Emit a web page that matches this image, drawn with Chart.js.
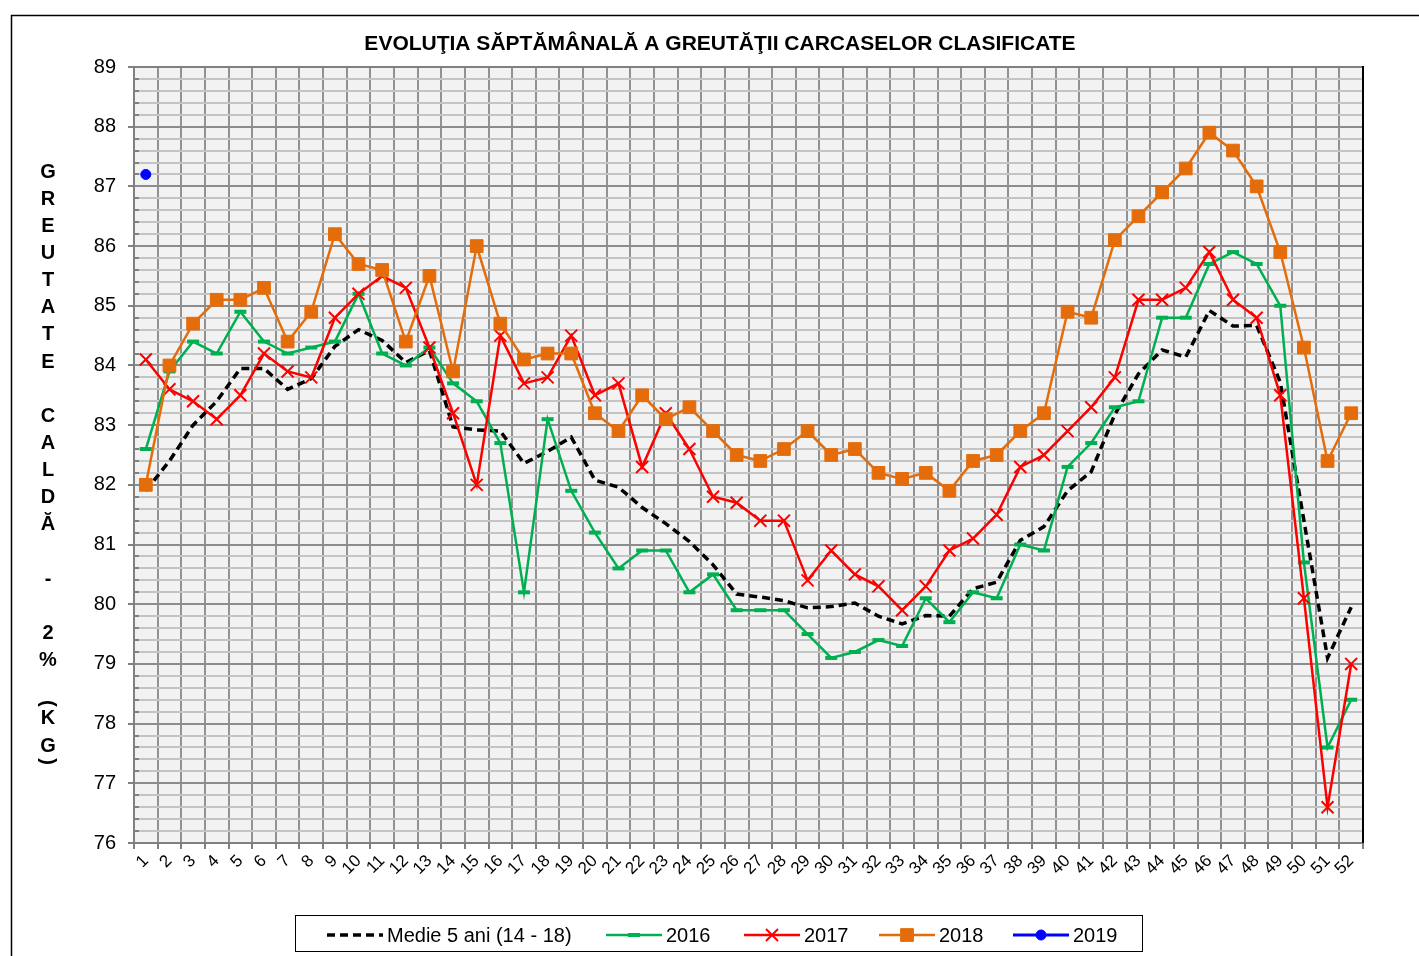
<!DOCTYPE html>
<html>
<head>
<meta charset="utf-8">
<script src="https://cdn.jsdelivr.net/npm/chart.js@4.4.1/dist/chart.umd.min.js"></script>
<style>
  html, body { margin: 0; padding: 0; background: #fff; }
  #wrap { width: 1419px; height: 956px; }
</style>
</head>
<body>
<div id="wrap"><canvas id="chart" width="1419" height="956"></canvas></div>
<script>
// date
const weeks = ['1','2','3','4','5','6','7','8','9','10','11','12','13','14','15','16','17','18','19','20',
  '21','22','23','24','25','26','27','28','29','30','31','32','33','34','35','36','37','38','39','40',
  '41','42','43','44','45','46','47','48','49','50','51','52'];

const medie5ani = [81.9, 82.4, 83.0, 83.4, 83.95, 83.95, 83.6, 83.78, 84.32, 84.6, 84.42, 84.05, 84.25, 82.97, 82.92, 82.9, 82.36, 82.56, 82.8, 82.08,
  81.96, 81.62, 81.35, 81.05, 80.66, 80.17, 80.12, 80.06, 79.94, 79.96, 80.02, 79.8, 79.67, 79.81, 79.8, 80.26, 80.37, 81.07, 81.3, 81.9,
  82.22, 83.18, 83.86, 84.26, 84.14, 84.92, 84.66, 84.67, 83.72, 81.4, 79.1, 79.95];

const serie2016 = [82.6, 83.9, 84.4, 84.2, 84.9, 84.4, 84.2, 84.3, 84.4, 85.2, 84.2, 84.0, 84.3, 83.7, 83.4, 82.7, 80.2, 83.1, 81.9, 81.2,
  80.6, 80.9, 80.9, 80.2, 80.5, 79.9, 79.9, 79.9, 79.5, 79.1, 79.2, 79.4, 79.3, 80.1, 79.7, 80.2, 80.1, 81.0, 80.9, 82.3,
  82.7, 83.3, 83.4, 84.8, 84.8, 85.7, 85.9, 85.7, 85.0, 80.7, 77.6, 78.4];

const serie2017 = [84.1, 83.6, 83.4, 83.1, 83.5, 84.2, 83.9, 83.8, 84.8, 85.2, 85.5, 85.3, 84.3, 83.2, 82.0, 84.5, 83.7, 83.8, 84.5, 83.5,
  83.7, 82.3, 83.2, 82.6, 81.8, 81.7, 81.4, 81.4, 80.4, 80.9, 80.5, 80.3, 79.9, 80.3, 80.9, 81.1, 81.5, 82.3, 82.5, 82.9,
  83.3, 83.8, 85.1, 85.1, 85.3, 85.9, 85.1, 84.8, 83.5, 80.1, 76.6, 79.0];

const serie2018 = [82.0, 84.0, 84.7, 85.1, 85.1, 85.3, 84.4, 84.9, 86.2, 85.7, 85.6, 84.4, 85.5, 83.9, 86.0, 84.7, 84.1, 84.2, 84.2, 83.2,
  82.9, 83.5, 83.1, 83.3, 82.9, 82.5, 82.4, 82.6, 82.9, 82.5, 82.6, 82.2, 82.1, 82.2, 81.9, 82.4, 82.5, 82.9, 83.2, 84.9,
  84.8, 86.1, 86.5, 86.9, 87.3, 87.9, 87.6, 87.0, 85.9, 84.3, 82.4, 83.2];

const serie2019 = [87.2];

const FONT = 'Arial, "Liberation Sans", sans-serif';
const isInt = v => Math.abs(v - Math.round(v)) < 1e-6;

// fundal, titluri, legenda, chenar
const decor = {
  id: 'decor',
  beforeDraw(chart) {
    const ctx = chart.ctx, a = chart.chartArea;
    ctx.save();
    ctx.fillStyle = '#fff';
    ctx.fillRect(0, 0, chart.width, chart.height);
    ctx.fillStyle = '#f2f2f2';
    ctx.fillRect(a.left, a.top, a.right - a.left, a.bottom - a.top);
    ctx.restore();
  },
  afterDatasetsDraw(chart) {
    const ctx = chart.ctx, a = chart.chartArea, y = chart.scales.y;
    ctx.save();
    // tick-uri minore spre interior
    ctx.strokeStyle = '#808080';
    ctx.lineWidth = 2;
    y.ticks.forEach(t => {
      if (isInt(t.value)) return;
      const py = Math.round(y.getPixelForValue(t.value));
      ctx.beginPath();
      ctx.moveTo(a.left, py);
      ctx.lineTo(a.left + 5, py);
      ctx.stroke();
    });
    // chenar zona grafic
    ctx.strokeStyle = '#808080';
    ctx.lineWidth = 2;
    ctx.beginPath();
    ctx.moveTo(a.left, a.top);
    ctx.lineTo(a.right, a.top);
    ctx.stroke();
    ctx.strokeStyle = '#000';
    ctx.beginPath();
    ctx.moveTo(a.right, a.top - 1);
    ctx.lineTo(a.right, a.bottom);
    ctx.stroke();
    ctx.restore();
  },
  afterDraw(chart) {
    const ctx = chart.ctx;
    ctx.save();
    // chenar exterior
    ctx.strokeStyle = '#000';
    ctx.lineWidth = 1.5;
    ctx.strokeRect(11.5, 15.5, 1500, 1000);

    // titlu
    ctx.fillStyle = '#000';
    ctx.font = 'bold 21px ' + FONT;
    ctx.textAlign = 'center';
    ctx.textBaseline = 'middle';
    ctx.fillText('EVOLUŢIA SĂPTĂMÂNALĂ A GREUTĂŢII CARCASELOR CLASIFICATE', 720, 44);

    // titlu axa Y, litere una sub alta
    ctx.font = 'bold 20px ' + FONT;
    const yTitle = 'GREUTATE CALDĂ - 2% (KG)';
    let py = 172;
    let prev = '';
    for (const ch of yTitle) {
      if (prev) {
        const half = (ch === '(' || ch === ')' || prev === '(' || prev === ')');
        py += half ? 15.5 : 27.15;
      }
      prev = ch;
      if (ch === ' ') continue;
      ctx.save();
      ctx.translate(48, py);
      if (ch === '(' || ch === ')') ctx.rotate(Math.PI / 2);
      ctx.fillText(ch, 0, 0);
      ctx.restore();
    }

    // legenda
    ctx.strokeStyle = '#000';
    ctx.lineWidth = 1;
    ctx.strokeRect(295.5, 915.5, 847, 36);
    ctx.font = '20px ' + FONT;
    ctx.textAlign = 'left';
    const ly = 935;
    const legendX = [327, 606, 744, 879, 1013];
    chart.data.datasets.forEach((ds, i) => {
      const lx = legendX[i];
      ctx.save();
      ctx.strokeStyle = ds.borderColor;
      ctx.lineWidth = ds.borderWidth;
      ctx.setLineDash(ds.borderDash || []);
      ctx.beginPath();
      ctx.moveTo(lx, ly);
      ctx.lineTo(lx + 56, ly);
      ctx.stroke();
      ctx.setLineDash([]);
      if (ds.pointStyle && ds.pointRadius > 0 && Chart.helpers && Chart.helpers.drawPoint) {
        ctx.fillStyle = ds.pointBackgroundColor;
        ctx.strokeStyle = ds.pointBorderColor;
        ctx.lineWidth = ds.pointBorderWidth;
        Chart.helpers.drawPoint(ctx, {
          pointStyle: ds.pointStyle, radius: ds.legendRadius, rotation: 0, borderWidth: ds.pointBorderWidth
        }, lx + 28, ly);
      }
      ctx.restore();
      ctx.fillStyle = '#000';
      ctx.fillText(ds.label, lx + 60, ly + 1);
    });
    ctx.restore();
  }
};

new Chart(document.getElementById('chart').getContext('2d'), {
  type: 'line',
  data: {
    labels: weeks,
    datasets: [
      {
        label: 'Medie 5 ani (14 - 18)',
        data: medie5ani,
        borderColor: '#000',
        borderWidth: 3.5,
        borderDash: [8, 5],
        pointRadius: 0,
        pointStyle: false,
        order: 5
      },
      {
        label: '2016',
        data: serie2016,
        borderColor: '#00b050',
        borderWidth: 2.5,
        pointStyle: 'line',
        pointRadius: 6,
        legendRadius: 6,
        pointBorderWidth: 4,
        pointBorderColor: '#00b050',
        pointBackgroundColor: '#00b050',
        order: 4
      },
      {
        label: '2017',
        data: serie2017,
        borderColor: '#ff0000',
        borderWidth: 2.5,
        pointStyle: 'crossRot',
        pointRadius: 8.5,
        legendRadius: 8.5,
        pointBorderWidth: 2,
        pointBorderColor: '#ff0000',
        pointBackgroundColor: '#ff0000',
        order: 3
      },
      {
        label: '2018',
        data: serie2018,
        borderColor: '#e46c0a',
        borderWidth: 2.5,
        pointStyle: 'rect',
        pointRadius: 9,
        legendRadius: 9,
        pointBorderWidth: 1,
        pointBorderColor: '#e46c0a',
        pointBackgroundColor: '#e46c0a',
        order: 2
      },
      {
        label: '2019',
        data: serie2019,
        borderColor: '#0000ff',
        borderWidth: 3,
        pointStyle: 'circle',
        pointRadius: 5,
        legendRadius: 5,
        pointBorderWidth: 1,
        pointBorderColor: '#0000ff',
        pointBackgroundColor: '#0000ff',
        order: 1
      }
    ]
  },
  options: {
    responsive: false,
    devicePixelRatio: 1,
    animation: false,
    layout: { padding: { top: 67, right: 56, left: 0, bottom: 63 } },
    elements: { line: { tension: 0 } },
    plugins: {
      legend: { display: false },
      title: { display: false },
      tooltip: { enabled: false }
    },
    scales: {
      x: {
        type: 'category',
        offset: true,
        grid: { offset: true, color: '#929292', lineWidth: 2, tickLength: 6, tickColor: '#808080' },
        border: { color: '#808080', width: 2 },
        ticks: {
          autoSkip: false, maxRotation: 45, minRotation: 45, padding: 2,
          color: '#000', font: { family: FONT, size: 17 }
        },
        afterFit(s) { s.height = 50; }
      },
      y: {
        min: 76,
        max: 89,
        grid: {
          color: c => isInt(c.tick.value) ? '#8c8c8c' : '#c4c4c4',
          lineWidth: 2,
          tickLength: 6,
          tickColor: c => isInt(c.tick.value) ? '#808080' : 'rgba(0,0,0,0)'
        },
        border: { color: '#808080', width: 2 },
        ticks: {
          stepSize: 0.2,
          autoSkip: false,
          padding: 12,
          color: '#000',
          font: { family: FONT, size: 20 },
          callback: v => isInt(v) ? String(Math.round(v)) : ''
        },
        afterFit(s) { s.width = 134; }
      }
    }
  },
  plugins: [decor]
});
</script>
</body>
</html>
